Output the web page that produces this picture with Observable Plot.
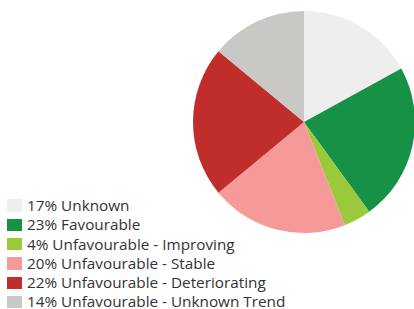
<!DOCTYPE html>
<html><head><meta charset="utf-8">
<script src="https://cdn.jsdelivr.net/npm/d3@7"></script>
<script src="https://cdn.jsdelivr.net/npm/@observablehq/plot@0.6"></script>
<style>
body{margin:0;background:#fff;font-family:"Open Sans",sans-serif;}
#wrap{position:relative;width:414px;height:309px;overflow:hidden;}
#chart{position:absolute;left:0;top:0;}
#legend{position:absolute;left:7px;top:196px;font-size:15.3px;color:#333;}
.item{display:flex;align-items:center;height:19.3px;white-space:nowrap}
.item span{line-height:19.3px}
.sw{width:15px;height:12.5px;margin-right:5px;flex:none}
</style></head><body><div id="wrap"><div id="chart"></div><div id="legend"></div></div>
<script>
const categories = ["Unknown","Favourable","Unfavourable - Improving","Unfavourable - Stable","Unfavourable - Deteriorating","Unfavourable - Unknown Trend"];
const shares = [17, 23, 4, 20, 22, 14];
const colors = ["#eeeeec","#169146","#9bc93c","#f59a98","#bf2e2a","#c9c8c4"];

const data = categories.map((c, i) => ({category: c, share: shares[i]}));
const color = Plot.scale({color: {type: "ordinal", domain: categories, range: colors}});

const R = 111; // pie radius in px
const pieMark = (index, scales, values, dimensions) => {
  const x = scales.x, y = scales.y;
  const cx = x(0), cy = y(0), r = x(1) - x(0);
  const arcs = d3.pie().sort(null).value(d => d.share)(data);
  const g = d3.create("svg:g").attr("transform", `translate(${cx},${cy})`);
  g.selectAll("path").data(arcs).join("path")
    .attr("d", d3.arc().innerRadius(0).outerRadius(r))
    .attr("fill", d => color.apply(d.data.category));
  return g.node();
};

const chart = Plot.plot({
  width: 414, height: 309, margin: 0,
  x: {domain: [-304 / R, 110 / R], axis: null},
  y: {domain: [-187 / R, 122 / R], axis: null},
  marks: [
    Plot.dot([-1, 1], {x: d => d, y: d => d, r: 0}),
    pieMark
  ]
});
document.getElementById("chart").appendChild(chart);

const legend = d3.select("#legend");
data.forEach(d => {
  const it = legend.append("div").attr("class", "item");
  it.append("div").attr("class", "sw").style("background", color.apply(d.category));
  it.append("span").text(`${d.share}% ${d.category}`);
});
</script></body></html>
